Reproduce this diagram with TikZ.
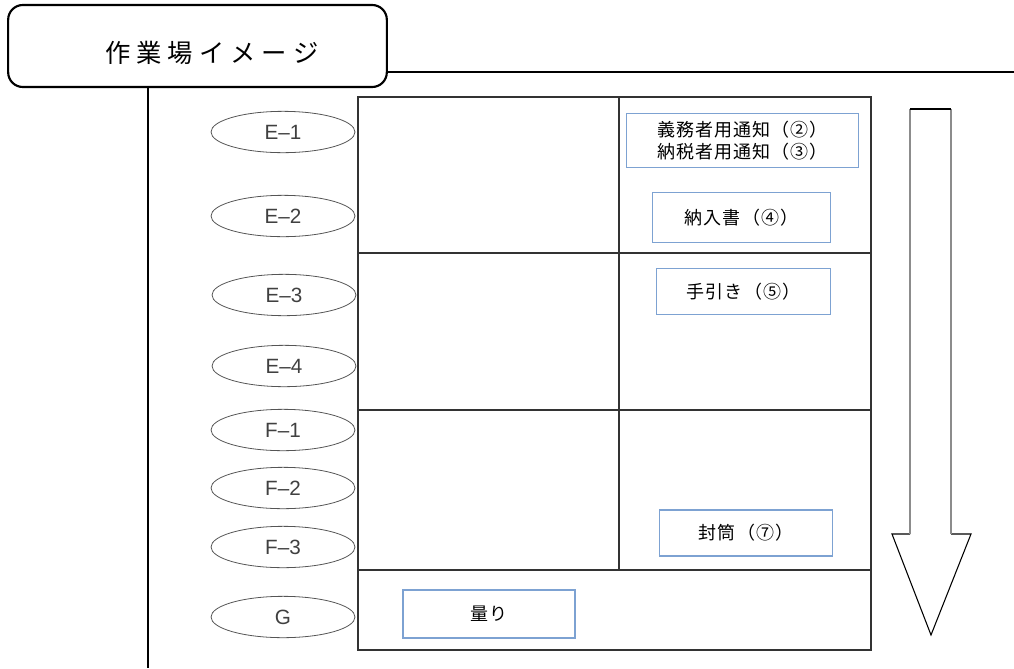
\documentclass[tikz,border=0pt]{standalone}
\usepackage{fontspec}
\setmainfont{Noto Sans CJK JP}
\newfontfamily\latinf{Liberation Sans}
\newfontfamily\boxf[LetterSpace=6]{Noto Sans CJK JP}
\definecolor{boxblue}{HTML}{7DA2D2}
\definecolor{ellgray}{HTML}{555555}
\usetikzlibrary{shapes.geometric}
\begin{document}
\begin{tikzpicture}[x=0.75pt,y=-0.75pt,
  ell/.style={draw=ellgray, line width=0.6pt, ellipse, minimum width=108pt, minimum height=31pt, inner sep=0pt, font=\latinf\fontsize{15.5}{16}\selectfont, text=black!75},
  bluebox/.style={draw=boxblue, line width=0.9pt, inner sep=0pt, font=\boxf\fontsize{13.5}{16.5}\selectfont, align=center},
  tline/.style={line width=0.9pt, draw=black!80}]
\useasboundingbox (0,0) rectangle (1014,668);
% title
\node[draw, line width=1.6pt, rounded corners=11pt, minimum width=284pt, minimum height=61.5pt, inner sep=0pt] (title) at (197.5,46) {};
\node[font=\fontsize{19}{20}\selectfont, inner sep=0pt] (titletext) at (212,53) {作\hspace{4.5pt}業\hspace{4.5pt}場\hspace{4.5pt}イ\hspace{4.5pt}メ\hspace{4.5pt}ー\hspace{4.5pt}ジ};
\coordinate (hend) at (1014,72);
\draw[line width=1pt] (title.east |- hend) -- (hend);
\coordinate (vtop) at (148,87);
\coordinate (vbot) at (148,668);
\draw[line width=1pt] (vtop) -- (vbot);
% table
\coordinate (tl) at (358,97);
\coordinate (br) at (871,650);
\draw[tline] (tl) rectangle (br);
\coordinate (m1) at (619,97);
\coordinate (m2) at (619,570);
\draw[tline] (m1) -- (m2);
\coordinate (h1l) at (358,253); \coordinate (h1r) at (871,253);
\coordinate (h2l) at (358,410); \coordinate (h2r) at (871,410);
\coordinate (h3l) at (358,570); \coordinate (h3r) at (871,570);
\draw[tline] (h1l) -- (h1r);
\draw[tline] (h2l) -- (h2r);
\draw[tline] (h3l) -- (h3r);
% ellipses
\node[ell] (e1) at (283,132) {E–1};
\node[ell] (e2) at (283,216) {E–2};
\node[ell] (e3) at (284,295) {E–3};
\node[ell] (e4) at (284,366) {E–4};
\node[ell] (f1) at (283,430) {F–1};
\node[ell] (f2) at (283,488) {F–2};
\node[ell] (f3) at (283,547) {F–3};
\node[ell] (g) at (283,617) {G};
% blue boxes
\node[bluebox, minimum width=174pt, minimum height=41pt] (b1) at (742.5,140.5) {義務者用通知（②）\\納税者用通知（③）};
\node[bluebox, minimum width=133pt, minimum height=37pt] (b2) at (741.5,217.5) {納入書（④）};
\node[bluebox, minimum width=131pt, minimum height=35pt] (b3) at (743.5,291.5) {手引き（⑤）};
\node[bluebox, minimum width=130pt, minimum height=34.5pt] (b4) at (746,533) {封筒（⑦）};
\node[bluebox, minimum width=129pt, minimum height=36pt] (b5) at (489,614) {量り};
% big arrow
\coordinate (a1) at (910,109);
\coordinate (a2) at (951,109);
\coordinate (a3) at (951,534);
\coordinate (a4) at (971,534);
\coordinate (tip) at (931,635);
\coordinate (a6) at (892,534);
\coordinate (a7) at (910,534);
\draw[line width=0.8pt, fill=white, line join=miter] (a7) -- (a6) -- (tip) -- (a4) -- (a3);
\draw[line width=1.6pt, draw=black!45] (a1) -- (a7);
\draw[line width=1.6pt, draw=black!45] (a2) -- (a3);
\draw[line width=0.8pt] (a1) -- (a2);
\end{tikzpicture}
\end{document}
